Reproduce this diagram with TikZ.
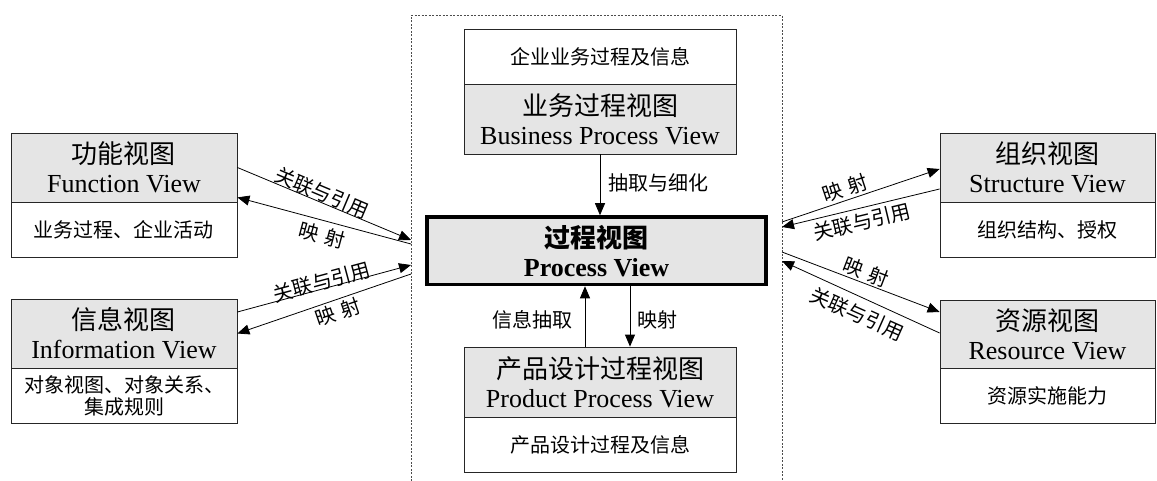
\documentclass[tikz,border=0pt]{standalone}
\usepackage{fontspec}
\setmainfont{Liberation Serif}
\newfontfamily\cjk{Noto Sans CJK SC}
\usetikzlibrary{arrows.meta}
\begin{document}
\begin{tikzpicture}[x=1pt,y=-1pt,
  hdr/.style={draw=black!85, fill=gray!20, line width=0.8pt, inner sep=0pt, align=center,
    font=\fontsize{26}{29}\selectfont},
  bdy/.style={draw=black!85, fill=white, line width=0.8pt, inner sep=0pt, align=center,
    font=\cjk\fontsize{20}{22}\selectfont},
  lbl/.style={font=\cjk\fontsize{20}{22}\selectfont, inner sep=0pt},
  arr/.style={-{Triangle[length=12pt,width=10pt]}, line width=0.8pt}]
\useasboundingbox (0,0) rectangle (1157,481);
% dashed frame
\draw[dash pattern=on 2pt off 1.5pt, black!70, line width=0.8pt] (411,495) -- (411,15.7) -- (782,15.7) -- (782,495);
% left boxes
\node[hdr, minimum width=226pt, minimum height=69pt] (fh) at (124,167.5) {{\cjk 功能视图}\\Function View};
\node[bdy, minimum width=226pt, minimum height=55pt] (fb) at (124,229.5) {业务过程、企业活动};
\node[hdr, minimum width=226pt, minimum height=69pt] (ih) at (124,333.5) {{\cjk 信息视图}\\Information View};
\node[bdy, minimum width=226pt, minimum height=55pt] (ib) at (124,395.5) {对象视图、对象关系、\\集成规则};
% right boxes
\node[hdr, minimum width=215pt, minimum height=69pt] (sh) at (1047.5,167.5) {{\cjk 组织视图}\\Structure View};
\node[bdy, minimum width=215pt, minimum height=55pt] (sb) at (1047.5,229.5) {组织结构、授权};
\node[hdr, minimum width=215pt, minimum height=68pt] (rh) at (1047.5,334) {{\cjk 资源视图}\\Resource View};
\node[bdy, minimum width=215pt, minimum height=55pt] (rb) at (1047.5,395.5) {资源实施能力};
% central boxes
\node[bdy, minimum width=272pt, minimum height=55pt] (bt) at (600,56.5) {企业业务过程及信息};
\node[hdr, minimum width=272pt, minimum height=70pt] (bh) at (600,119) {{\cjk 业务过程视图}\\Business Process View};
\node[hdr, draw=black, line width=3.5pt, minimum width=339pt, minimum height=67.5pt] (pv) at (596.5,250.75) {{\cjk\bfseries 过程视图}\\\textbf{Process View}};
\node[hdr, minimum width=272pt, minimum height=70pt] (ph) at (600,382) {{\cjk 产品设计过程视图}\\Product Process View};
\node[bdy, minimum width=272pt, minimum height=55pt] (pb) at (600,444.5) {产品设计过程及信息};
% free ends on the dashed frame
\coordinate (fL1) at (411,240);
\coordinate (fL2) at (411,244);
\coordinate (iL1) at (411,265);
\coordinate (iL2) at (411,274);
\coordinate (sL1) at (782,222);
\coordinate (sL2) at (782,227);
\coordinate (rL1) at (782,252);
\coordinate (rL2) at (782,261);
% connectors
\draw[arr] (fh.east) -- (fL1);
\draw[arr] (fL2) -- ([yshift=5pt]fh.south east);
\draw[arr] ([yshift=21.5pt]ih.east) -- (iL1);
\draw[arr] (iL2) -- (ih.east);
\draw[arr] (sL1) -- ([yshift=-1.5pt]sh.west);
\draw[arr] ([yshift=-21.5pt]sh.west) -- (sL2);
\draw[arr] (rL1) -- ([yshift=22pt]rh.west);
\draw[arr] ([yshift=1pt]rh.west) -- (rL2);
\draw[arr] (bh.south) -- ([xshift=3.5pt]pv.north);
\draw[arr] ([xshift=-15pt]ph.north) -- ([xshift=-11.5pt]pv.south);
\draw[arr] ([xshift=33.5pt]pv.south) -- ([xshift=30pt]ph.north);
% labels
\node[lbl, anchor=west] (t1) at (608,183) {抽取与细化};
\node[lbl, anchor=east] (t2) at (573,320) {信息抽取};
\node[lbl, anchor=west] (t3) at (637,320) {映射};
\node[lbl, rotate=-23] (t4) at (322,193) {关联与引用};
\node[lbl, rotate=-15] (t5) at (322,235) {映\,\,射};
\node[lbl, rotate=15] (t6) at (322,282) {关联与引用};
\node[lbl, rotate=19] (t7) at (338,312) {映\,\,射};
\node[lbl, rotate=18.5] (t8) at (845,188) {映\,\,射};
\node[lbl, rotate=13.5] (t9) at (862,222) {关联与引用};
\node[lbl, rotate=-21] (t10) at (866,272) {映\,\,射};
\node[lbl, rotate=-24] (t11) at (857,314) {关联与引用};
\end{tikzpicture}
\end{document}
